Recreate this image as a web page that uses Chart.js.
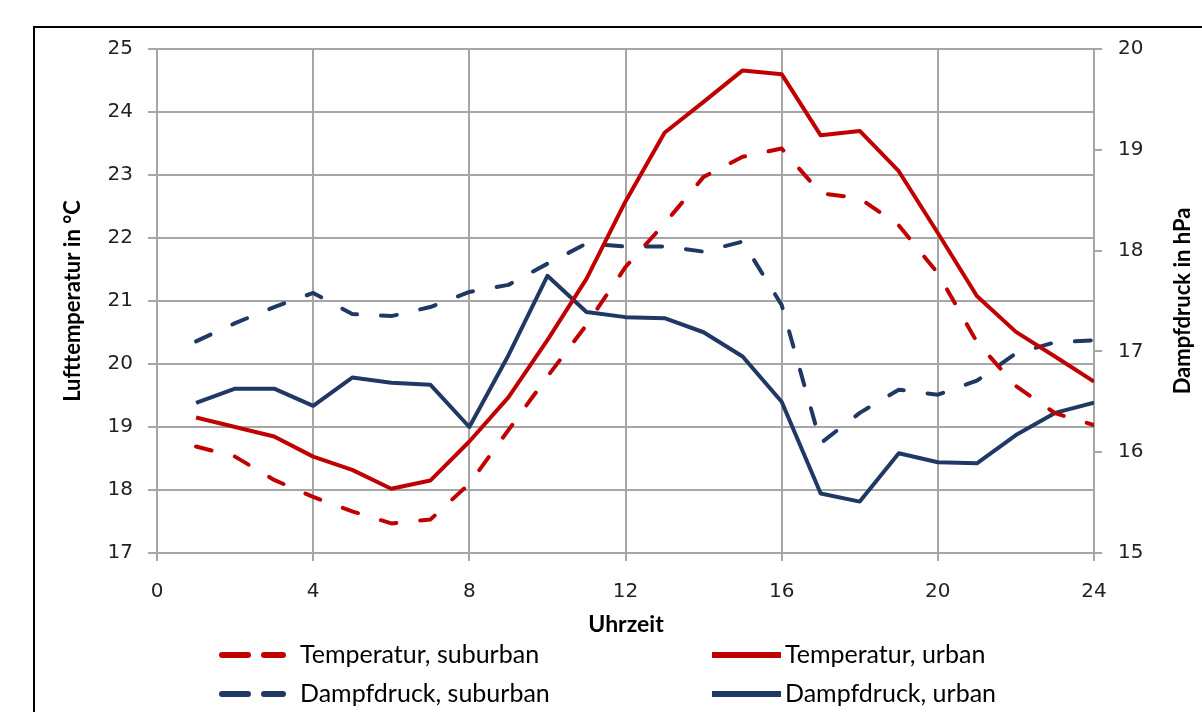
<!DOCTYPE html>
<html>
<head>
<meta charset="utf-8">
<script src="https://cdn.jsdelivr.net/npm/chart.js@4.4.1/dist/chart.umd.min.js"></script>
<style>
  html, body { margin: 0; padding: 0; background: #fff; }
  #wrap { position: relative; width: 1202px; height: 712px; overflow: hidden; }
  #frame { position: absolute; left: 33px; top: 26px; width: 1400px; height: 900px; border: 2px solid #000; }
  #myChart { position: absolute; left: 0; top: 0; }
</style>
</head>
<body>
<div id="wrap">
  <div id="frame"></div>
  <canvas id="myChart" width="1202" height="712"></canvas>
</div>
<script>
// Stunden 1..24
const hours = [1, 2, 3, 4, 5, 6, 7, 8, 9, 10, 11, 12, 13, 14, 15, 16, 17, 18, 19, 20, 21, 22, 23, 24];

// Lufttemperatur (°C)
const tempSuburban = [18.69, 18.53, 18.16, 17.89, 17.66, 17.47, 17.53, 18.1, 18.95, 19.8, 20.62, 21.54,
  22.23, 22.97, 23.29, 23.42, 22.71, 22.63, 22.2, 21.44, 20.35, 19.65, 19.22, 19.03];
const tempUrban = [19.15, 19.0, 18.85, 18.53, 18.32, 18.02, 18.15, 18.77, 19.47, 20.38, 21.35, 22.58,
  23.67, 24.16, 24.66, 24.6, 23.63, 23.7, 23.06, 22.08, 21.08, 20.51, 20.12, 19.72];

// Dampfdruck (hPa)
const vapSuburban = [17.1, 17.28, 17.44, 17.58, 17.37, 17.35, 17.44, 17.59, 17.66, 17.87, 18.07, 18.04,
  18.04, 17.99, 18.09, 17.46, 16.09, 16.39, 16.62, 16.57, 16.71, 16.98, 17.09, 17.11];
const vapUrban = [16.49, 16.63, 16.63, 16.46, 16.74, 16.69, 16.67, 16.25, 16.96, 17.75, 17.39, 17.34,
  17.33, 17.19, 16.95, 16.5, 15.59, 15.51, 15.99, 15.9, 15.89, 16.17, 16.39, 16.49];

const red = "#C00000";
const blue = "#1F3864";
const gridColor = "#a6a6a6";
const tickFont = { family: "DejaVu Sans", size: 20 };

const toPoints = (arr) => hours.map((h, i) => ({ x: h, y: arr[i] }));

// Titel und Legende selbst zeichnen
const extrasPlugin = {
  id: "extras",
  afterDraw(chart) {
    const c = chart.ctx;
    c.save();
    c.fillStyle = "#000";
    c.font = "bold 22px Lato";
    c.textAlign = "center";
    c.textBaseline = "middle";

    c.save();
    c.translate(73, 301);
    c.rotate(-Math.PI / 2);
    c.fillText("Lufttemperatur in °C", 0, 0);
    c.restore();

    c.save();
    c.translate(1183, 301);
    c.rotate(-Math.PI / 2);
    c.fillText("Dampfdruck in hPa", 0, 0);
    c.restore();

    c.font = "bold 23px Lato";
    c.fillText("Uhrzeit", 626, 625);

    // Legende, 2 Spalten
    const cols = [{ x1: 222, x2: 283, tx: 300 }, { x1: 712, x2: 781, tx: 785 }];
    const rows = [655, 694];
    chart.data.datasets.forEach((ds, i) => {
      const col = cols[i % 2];
      const y = rows[Math.floor(i / 2)];
      c.beginPath();
      c.strokeStyle = ds.borderColor;
      c.lineWidth = 6;
      if (ds.borderDash && ds.borderDash.length) {
        c.setLineDash([26, 16]);
        c.lineCap = "round";
      } else {
        c.setLineDash([]);
        c.lineCap = "butt";
      }
      c.moveTo(col.x1, y);
      c.lineTo(col.x2, y);
      c.stroke();
      c.setLineDash([]);
      c.font = "25px Lato";
      c.textAlign = "left";
      c.fillStyle = "#000";
      c.fillText(ds.label, col.tx, y);
    });
    c.restore();
  }
};

const ctx = document.querySelector("#myChart").getContext("2d");
const myChart = new Chart(ctx, {
  type: "line",
  data: {
    datasets: [
      {
        label: "Temperatur, suburban",
        data: toPoints(tempSuburban),
        yAxisID: "y",
        borderColor: red,
        borderWidth: 4,
        borderDash: [16, 24],
        borderCapStyle: "round",
      },
      {
        label: "Temperatur, urban",
        data: toPoints(tempUrban),
        yAxisID: "y",
        borderColor: red,
        borderWidth: 4,
      },
      {
        label: "Dampfdruck, suburban",
        data: toPoints(vapSuburban),
        yAxisID: "y1",
        borderColor: blue,
        borderWidth: 4,
        borderDash: [16, 24],
        borderCapStyle: "round",
      },
      {
        label: "Dampfdruck, urban",
        data: toPoints(vapUrban),
        yAxisID: "y1",
        borderColor: blue,
        borderWidth: 4,
      },
    ],
  },
  options: {
    responsive: false,
    animation: false,
    layout: { padding: { top: 49, left: 0, right: 0, bottom: 0 } },
    elements: { point: { radius: 0 }, line: { tension: 0, borderJoinStyle: "round" } },
    plugins: { legend: { display: false }, tooltip: { enabled: false } },
    scales: {
      x: {
        type: "linear",
        min: 0,
        max: 24,
        ticks: { stepSize: 4, padding: 19, color: "#222", font: tickFont },
        grid: { color: gridColor, lineWidth: 2, tickLength: 8 },
        border: { color: gridColor, width: 2 },
        afterFit: (s) => { s.height = 159; },
      },
      y: {
        position: "left",
        min: 17,
        max: 25,
        ticks: { stepSize: 1, padding: 15, color: "#222", font: tickFont },
        grid: { color: gridColor, lineWidth: 2, tickLength: 9 },
        border: { color: gridColor, width: 2 },
        afterFit: (s) => { s.width = 157; },
      },
      y1: {
        position: "right",
        min: 15,
        max: 20,
        ticks: { stepSize: 1, padding: 16, color: "#222", font: tickFont },
        grid: { drawOnChartArea: false, color: gridColor, lineWidth: 2, tickLength: 8 },
        border: { color: gridColor, width: 2 },
        afterFit: (s) => { s.width = 108; },
      },
    },
  },
  plugins: [extrasPlugin],
});
</script>
</body>
</html>
